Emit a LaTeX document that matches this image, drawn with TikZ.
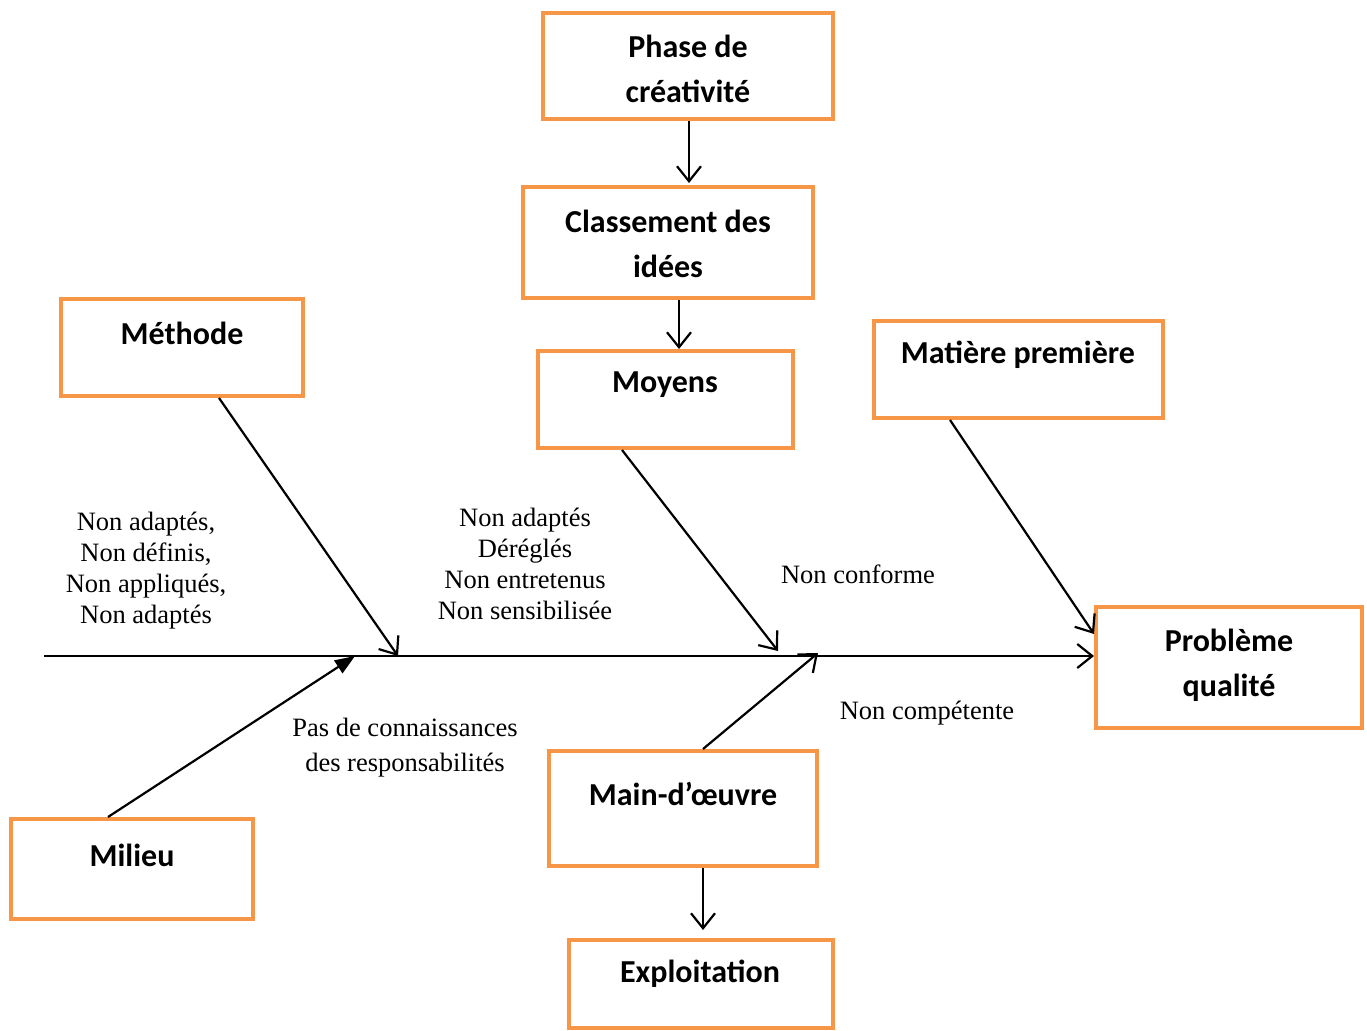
\documentclass[tikz,border=0pt]{standalone}
\usepackage{fontspec}
\setmainfont{Liberation Serif}
\newfontfamily\boxfont{Carlito}
\usetikzlibrary{arrows.meta,calc}
\definecolor{boxorange}{HTML}{F79646}
\begin{document}
\begin{tikzpicture}[x=1pt,y=-1pt,
  box/.style={draw=boxorange,line width=4pt,fill=white,inner sep=0pt},
  btxt/.style={font=\boxfont\bfseries\fontsize{32}{45}\selectfont,align=center,inner sep=0pt},
  ltxt/.style={font=\fontsize{26.5}{31}\selectfont,align=center,inner sep=0pt},
  conn/.style={line width=2.2pt,-{Straight Barb[length=15pt,width=24pt,line width=2.2pt]}},
  fconn/.style={line width=2.2pt,-{Triangle[length=20pt,width=15pt]}}]
\useasboundingbox (0,0) rectangle (1367,1030);
% boxes
\node[box,minimum width=290pt,minimum height=106pt] (ph) at (688,66) {};
\node[box,minimum width=290pt,minimum height=111pt] (cl) at (668,242.5) {};
\node[box,minimum width=242pt,minimum height=97pt] (me) at (182,347.5) {};
\node[box,minimum width=255pt,minimum height=97pt] (mo) at (665.5,399.5) {};
\node[box,minimum width=289pt,minimum height=97pt] (ma) at (1018.5,369.5) {};
\node[box,minimum width=266pt,minimum height=121pt] (pq) at (1229,667.5) {};
\node[box,minimum width=268pt,minimum height=115pt] (mo2) at (683,808.5) {};
\node[box,minimum width=242pt,minimum height=100pt] (mi) at (132,869) {};
\node[box,minimum width=264pt,minimum height=88pt] (ex) at (701,984) {};
% box texts
\node[btxt] (pht) at (688,69) {Phase de\\créativité};
\node[btxt] (clt) at (668,244) {Classement des\\idées};
\node[btxt] (met) at (182,333) {Méthode};
\node[btxt] (mot) at (665,385) {Moyens};
\node[btxt] (mat) at (1018,355) {Matière première};
\node[btxt] (pqt) at (1229,665) {Problème\\qualité};
\node[btxt] (mo2t) at (683,794) {Main-d’œuvre};
\node[btxt] (mit) at (132,855) {Milieu};
\node[btxt] (ext) at (700,974) {Exploitation};
% labels
\node[ltxt] (l1) at (146,571) {Non adaptés,\\Non définis,\\Non appliqués,\\Non adaptés};
\node[ltxt] (l2) at (525,564) {Non adaptés\\Déréglés\\Non entretenus\\Non sensibilisée};
\node[ltxt,font=\fontsize{26.5}{35}\selectfont] (l3) at (405,748) {Pas de connaissances\\des responsabilités};
\node[ltxt] (l4) at (858,574) {Non conforme};
\node[ltxt] (l5) at (927,713) {Non compétente};
% axis
\coordinate (ax0) at (44,656);
\coordinate (a1) at (398,656);
\coordinate (a2) at (778,651);
\coordinate (a3) at (355,656);
\coordinate (a4) at (818,653);
\draw[conn] (ax0) -- (ax0 -| pq.west);
% branches
\draw[conn] ([xshift=37pt]me.south) -- (a1);
\draw[conn] ([xshift=-43.5pt]mo.south) -- (a2);
\draw[conn] ([xshift=-68.5pt]ma.south) -- ([yshift=33.5pt]pq.west);
\draw[fconn] ([xshift=-24pt]mi.north) -- (a3);
\draw[conn] ([xshift=20pt]mo2.north) -- (a4);
% vertical links
\draw[conn] ([xshift=1pt]ph.south) -- ([xshift=21pt,yshift=2pt]cl.north);
\draw[conn] ([xshift=11pt]cl.south) -- ([xshift=13.5pt]mo.north);
\draw[conn] ([xshift=20pt]mo2.south) -- ([xshift=2pt,yshift=8pt]ex.north);
\end{tikzpicture}
\end{document}
